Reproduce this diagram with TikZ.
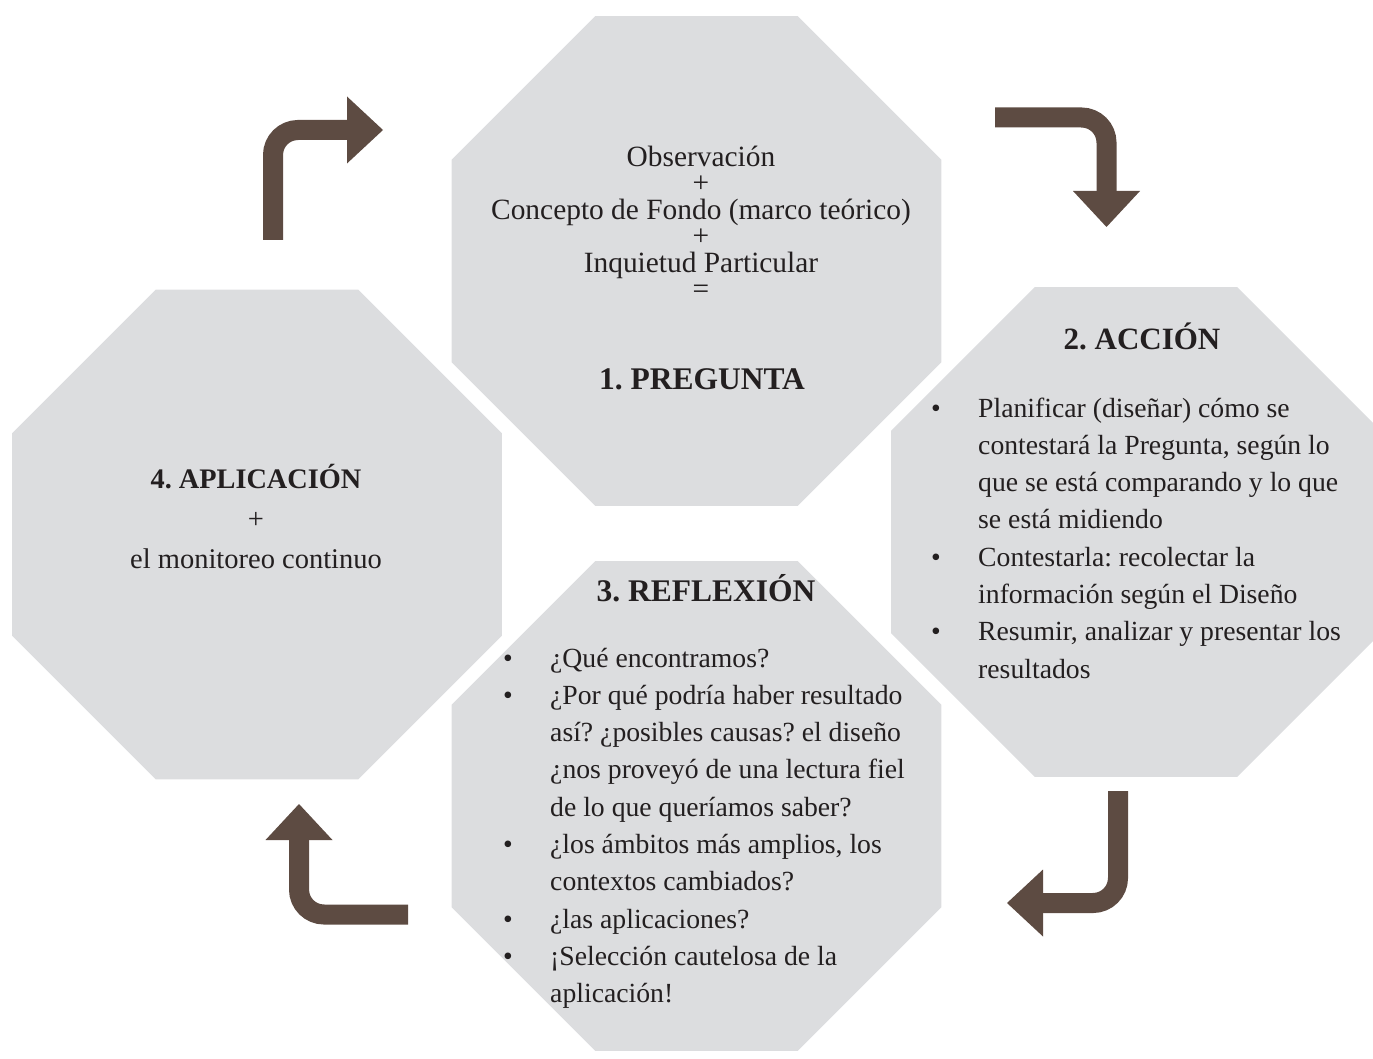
\documentclass[tikz,border=0pt]{standalone}
\usepackage{fontspec}
\setmainfont{Liberation Serif}
\usetikzlibrary{shapes.geometric,arrows.meta}
\definecolor{octgray}{RGB}{220,221,223}
\definecolor{arrowbrown}{RGB}{93,75,66}
\definecolor{inkdark}{RGB}{35,31,32}
\frenchspacing

\begin{document}
\begin{tikzpicture}[x=1pt,y=-1pt,
    octagon/.style={regular polygon, regular polygon sides=8, minimum size=530pt, inner sep=0pt, fill=octgray, draw=none},
    stagetitle/.style={font=\fontsize{31}{36}\selectfont\bfseries, text=inkdark, inner sep=0pt, anchor=base},
    stagetext/.style={font=\fontsize{27.7}{37.3}\selectfont, text=inkdark, inner sep=0pt},
    turnarrow/.style={draw=arrowbrown, line width=20pt, rounded corners=25pt, -{Triangle[width=67pt,length=36pt,line width=0pt]}}]

    \useasboundingbox (0,0) rectangle (1373,1059);

    % the four stages
    \node[octagon] (pregunta) at (696.5,261) {};
    \node[octagon] (accion) at (1136,532) {};
    \node[octagon] (reflexion) at (696.5,806) {};
    \node[octagon] (aplicacion) at (257,534.5) {};

    % 1. pregunta
    \node[stagetext, font=\fontsize{29.4}{26.5}\selectfont, align=center, anchor=base] (fondo) at (701,298.5)
        {Observación\\+\\Concepto de Fondo (marco teórico)\\+\\Inquietud Particular\\=};
    \node[stagetitle, font=\fontsize{31.5}{36}\selectfont\bfseries] (tpregunta) at (702,389) {1. PREGUNTA};

    % 2. accion
    \node[stagetitle] (taccion) at (1142,349) {2. ACCIÓN};
    \node[stagetext, anchor=base west] (laccion) at (931,417)
        {\begin{tabular}[t]{@{}p{47pt}@{}l@{}}
         \textbullet & Planificar (diseñar) cómo se\\
                     & contestará la Pregunta, según lo\\
                     & que se está comparando y lo que\\
                     & se está midiendo\\
         \textbullet & Contestarla: recolectar la\\
                     & información según el Diseño\\
         \textbullet & Resumir, analizar y presentar los\\
                     & resultados
         \end{tabular}};

    % 3. reflexion
    \node[stagetitle, font=\fontsize{31.5}{36}\selectfont\bfseries] (treflexion) at (706,601) {3. REFLEXIÓN};
    \node[stagetext, anchor=base west] (lreflexion) at (503,667)
        {\begin{tabular}[t]{@{}p{47pt}@{}l@{}}
         \textbullet & ¿Qué encontramos?\\
         \textbullet & ¿Por qué podría haber resultado\\
                     & así? ¿posibles causas? el diseño\\
                     & ¿nos proveyó de una lectura fiel\\
                     & de lo que queríamos saber?\\
         \textbullet & ¿los ámbitos más amplios, los\\
                     & contextos cambiados?\\
         \textbullet & ¿las aplicaciones?\\
         \textbullet & ¡Selección cautelosa de la\\
                     & aplicación!
         \end{tabular}};

    % 4. aplicacion
    \node[stagetext, font=\fontsize{28.5}{40}\selectfont, align=center, anchor=base] (taplicacion) at (256,568)
        {{\fontsize{28.3}{40}\selectfont\bfseries 4. APLICACIÓN}\\+\\el monitoreo continuo};

    % turning arrows between the stages
    \coordinate (aplout) at (273,240);
    \coordinate (pregin) at (383,130);
    \coordinate (pregout) at (995,117.5);
    \coordinate (accin) at (1106.5,227);
    \coordinate (accout) at (1118,791);
    \coordinate (reflin) at (1007,903);
    \coordinate (reflout) at (408,914.5);
    \coordinate (aplin) at (299,804);

    \draw[turnarrow] (aplout) |- (pregin);
    \draw[turnarrow] (pregout) -| (accin);
    \draw[turnarrow] (accout) |- (reflin);
    \draw[turnarrow] (reflout) -| (aplin);

\end{tikzpicture}
\end{document}
